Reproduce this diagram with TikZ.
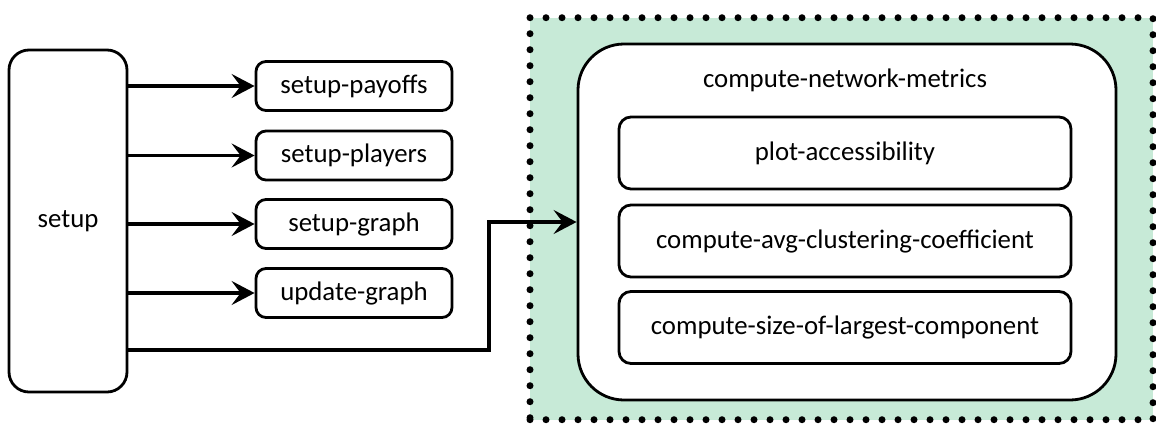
\documentclass[tikz,border=0pt]{standalone}
\usepackage{fontspec}
\setmainfont{Carlito}
\usetikzlibrary{arrows.meta,positioning,calc}
\definecolor{mint}{RGB}{199,234,215}
\tikzset{
  txt/.style={font=\fontsize{26.8}{31}\selectfont},
  box/.style={draw=black, line width=2.8pt, fill=white, align=center, txt, inner sep=0pt},
  arr/.style={line width=3.3pt, -{Stealth[length=23pt,width=24pt,inset=9pt]}},
}
\begin{document}
\begin{tikzpicture}[x=1pt,y=-1pt]
\useasboundingbox (0,0) rectangle (1156,424);
% outer dotted group
\node[draw=black, fill=mint, line width=7pt, dash pattern=on 0pt off 16pt, line cap=round,
      minimum width=623pt, minimum height=402pt, inner sep=0pt] (outer) at (841.5,218.7) {};
% left side
\node[box, rounded corners=20pt, minimum width=118pt, minimum height=342pt] (setup) at (68,221) {setup};
\node[box, rounded corners=10pt, minimum width=196pt, minimum height=49pt] (sp) at (354,86) {setup-payoffs};
\node[box, rounded corners=10pt, minimum width=196pt, minimum height=49pt] (spl) at (354,155.5) {setup-players};
\node[box, rounded corners=10pt, minimum width=196pt, minimum height=49pt] (sg) at (354,224) {setup-graph};
\node[box, rounded corners=10pt, minimum width=196pt, minimum height=49pt] (ug) at (354,293) {update-graph};
% inner box
\node[box, rounded corners=46pt, minimum width=538pt, minimum height=356pt] (metrics) at (847,222) {};
\node[txt, inner sep=0pt] (title) at (845,80) {compute-network-metrics};
\node[box, rounded corners=12pt, minimum width=452pt, minimum height=72pt] (pa) at (845,153) {plot-accessibility};
\node[box, rounded corners=12pt, minimum width=452pt, minimum height=72pt] (cc) at (845,241) {compute-avg-clustering-coefficient};
\node[box, rounded corners=12pt, minimum width=452pt, minimum height=72pt] (sz) at (845,327.5) {compute-size-of-largest-component};
% connectors
\draw[arr] (setup.east |- sp.west) -- (sp.west);
\draw[arr] (setup.east |- spl.west) -- (spl.west);
\draw[arr] (setup.east |- sg.west) -- (sg.west);
\draw[arr] (setup.east |- ug.west) -- (ug.west);
\coordinate (bend) at (489,350);
\draw[arr] (setup.east |- bend) -- (bend) |- (metrics.west);
\end{tikzpicture}
\end{document}
